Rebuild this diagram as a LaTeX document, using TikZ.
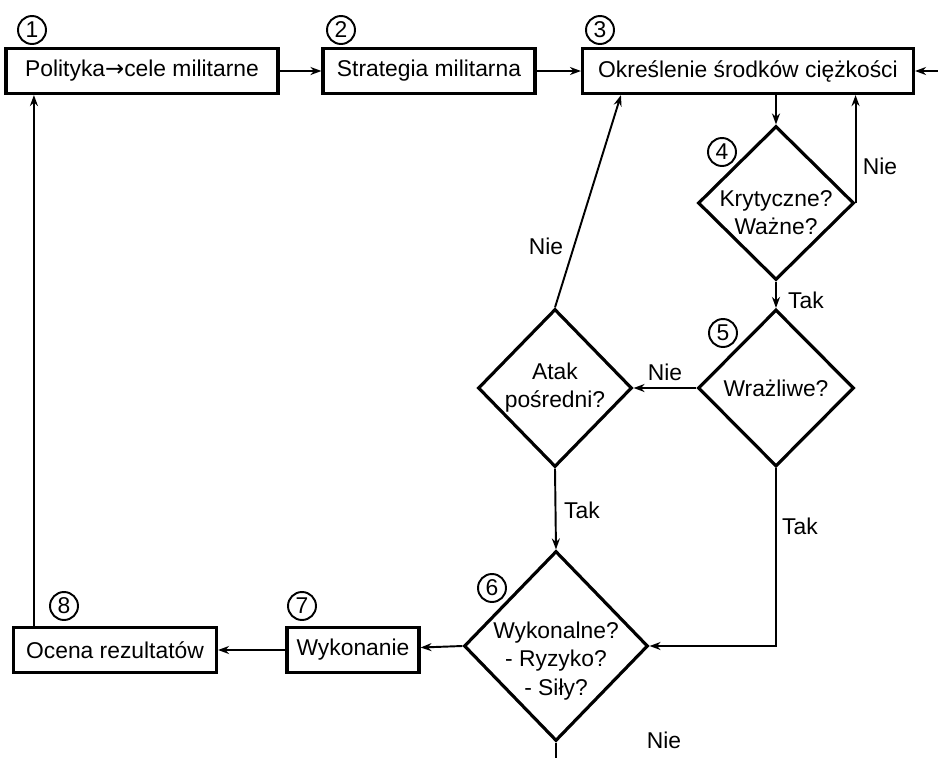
\documentclass[tikz,border=0pt]{standalone}
\usepackage{fontspec}
\setmainfont{Liberation Sans}
\newfontfamily\strzalki{DejaVu Sans}
\usepackage{tikz}
\usetikzlibrary{shapes.geometric,arrows.meta}

\tikzset{
	blok/.style={draw, line width=1.8pt, inner sep=0pt, minimum height=0.9cm},
	romb/.style={draw, diamond, line width=1.8pt, inner sep=0pt, align=center},
	tekst/.style={inner sep=0pt, align=center},
	numer/.style={draw, circle, line width=1.1pt, inner sep=0pt, minimum size=0.56cm},
	linia/.style={line width=1.1pt},
	opis/.style={inner sep=1pt}
}

\begin{document}
\begin{tikzpicture}[x=0.02cm, y=-0.02cm, >={Stealth[length=2.2mm,width=1.6mm]},
		font=\fontsize{13}{16}\selectfont]
		\useasboundingbox (0,0) rectangle (938,758);

		% bloki
		\node[blok, minimum width=5.44cm] (polityka) at (142,71) {Polityka{\strzalki →}cele militarne};
		\node[blok, minimum width=4.24cm] (strategia) at (429,71) {Strategia militarna};
		\node[blok, minimum width=6.62cm] (srodki) at (748,71) {Określenie środków ciężkości};
		\node[blok, minimum width=2.64cm] (wykonanie) at (353,650) {Wykonanie};
		\node[blok, minimum width=4.06cm] (ocena) at (115,650) {Ocena rezultatów};

		% romby
		\node[romb, minimum width=3.12cm, minimum height=3.08cm] (krytyczne) at (776,203) {};
		\node[tekst] (krytyczneT) at ([yshift=-0.2cm]krytyczne) {Krytyczne?\\Ważne?};
		\node[romb, minimum width=3.12cm, minimum height=3.14cm] (wrazliwe) at (776,388) {Wrażliwe?};
		\node[romb, minimum width=3.08cm, minimum height=3.16cm] (atak) at (555,388) {Atak\\pośredni?};
		\node[romb, minimum width=3.68cm, minimum height=3.8cm] (wykonalne) at (556,646) {};
		\node[tekst] (wykonalneT) at ([yshift=-0.3cm]wykonalne) {Wykonalne?\\- Ryzyko?\\- Siły?};

		% numery
		\node[numer] (n1) at (32,30) {1};
		\node[numer] (n2) at (341,30) {2};
		\node[numer] (n3) at (600,30) {3};
		\node[numer] (n4) at (722,152) {4};
		\node[numer] (n5) at (723,333) {5};
		\node[numer] (n6) at (492,588) {6};
		\node[numer] (n7) at (302,606) {7};
		\node[numer] (n8) at (64,606) {8};

		% wejscie i wyjscie
		\coordinate (wej) at (938,71);
		\coordinate (wyj) at (556,758);

		% polaczenia
		\draw[linia, ->] (polityka) -- (strategia);
		\draw[linia, ->] (strategia) -- (srodki);
		\draw[linia, ->] (wej) -- (srodki);
		\draw[linia, ->] (krytyczne.north |- srodki.south) -- (krytyczne.north);
		\draw[linia, ->] (krytyczne.east) -- (krytyczne.east |- srodki.south);
		\draw[linia, ->] (krytyczne.south) -- (wrazliwe.north);
		\draw[linia, ->] (wrazliwe.west) -- (atak.east);
		\draw[linia, ->] (atak.north) -- ([xshift=0.8cm]srodki.south west);
		\draw[linia, ->] (atak.south) -- (wykonalne.north);
		\draw[linia, ->] (wrazliwe.south) |- (wykonalne.east);
		\draw[linia, ->] (wykonalne.west) -- (wykonanie);
		\draw[linia, ->] (wykonanie) -- (ocena);
		\draw[linia, ->] ([xshift=0.44cm]ocena.north west) coordinate (pow) -- (pow |- polityka.south);
		\draw[linia] (wykonalne.south) -- (wyj);

		% etykiety
		\node[opis] (e1) at (880,166) {Nie};
		\node[opis] (e2) at (806,300) {Tak};
		\node[opis] (e3) at (665,372) {Nie};
		\node[opis] (e4) at (546,246) {Nie};
		\node[opis] (e5) at (582,510) {Tak};
		\node[opis] (e6) at (800,526) {Tak};
		\node[opis] (e7) at (664,740) {Nie};
	\end{tikzpicture}
\end{document}
